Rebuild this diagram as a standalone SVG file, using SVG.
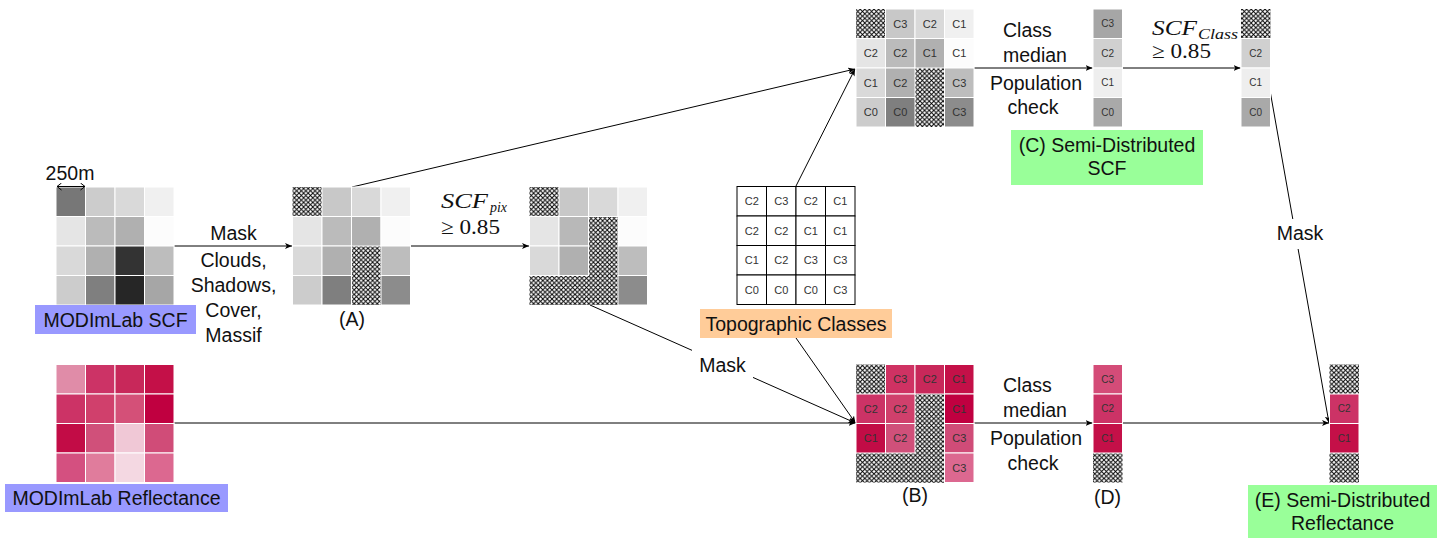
<svg xmlns="http://www.w3.org/2000/svg" width="1456" height="539" viewBox="0 0 1456 539">
<style>
.lbl{font-family:"Liberation Sans",Arial,sans-serif;font-size:19.5px;fill:#111;text-anchor:middle}
.lst{font-family:"Liberation Sans",Arial,sans-serif;font-size:19.5px;fill:#111}
.cell{font-family:"Liberation Sans",Arial,sans-serif;font-size:11px;fill:#333;text-anchor:middle}
.cs{font-family:"Liberation Sans",Arial,sans-serif;font-size:10px;fill:#333;text-anchor:middle}
.math{font-family:"Liberation Serif","Times New Roman",serif;font-style:italic;font-size:20px;fill:#111}
.mrm{font-family:"Liberation Serif","Times New Roman",serif;font-size:21px;fill:#111}
.msub{font-family:"Liberation Serif","Times New Roman",serif;font-style:italic;font-size:15px;fill:#111}
.c rect{stroke:#fff;stroke-width:1}
rect.h{fill:url(#hatch);stroke:none}
.con line{stroke:#000;stroke-width:1;fill:none}
.tg rect{fill:#fff;stroke:#000;stroke-width:1}
</style>
<defs>
<pattern id="hatch" width="4.6" height="4.6" patternUnits="userSpaceOnUse">
<rect width="4.6" height="4.6" fill="#fff"/>
<path d="M-1,-1 L5.6,5.6 M-1,5.6 L5.6,-1" stroke="#000" stroke-width="0.95"/>
</pattern>
<marker id="arr" markerWidth="8" markerHeight="6" refX="7" refY="3" orient="auto" markerUnits="userSpaceOnUse">
<path d="M0,0 L7,3 L0,6 L1.8,3 z" fill="#000"/>
</marker>
<marker id="chev" markerWidth="6" markerHeight="8" refX="5" refY="4" orient="auto-start-reverse" markerUnits="userSpaceOnUse">
<path d="M0.5,0.5 L5,4 L0.5,7.5" fill="none" stroke="#000" stroke-width="1"/>
</marker>
</defs>
<rect width="1456" height="539" fill="#fff"/>

<g id="connectors" class="con">
<line x1="174" y1="246" x2="292" y2="246" marker-end="url(#arr)"/>
<line x1="411" y1="246" x2="529" y2="246" marker-end="url(#arr)"/>
<line x1="352" y1="187" x2="855" y2="69" marker-end="url(#arr)"/>
<line x1="796" y1="186" x2="855" y2="69" marker-end="url(#arr)"/>
<line x1="974" y1="68" x2="1092.5" y2="68" marker-end="url(#arr)"/>
<line x1="1122.5" y1="68" x2="1240.5" y2="68" marker-end="url(#arr)"/>
<line x1="1266" y1="68" x2="1329" y2="423" marker-end="url(#arr)"/>
<line x1="174" y1="423" x2="855.5" y2="423" marker-end="url(#arr)"/>
<line x1="590" y1="305" x2="855.5" y2="423" marker-end="url(#arr)"/>
<line x1="796" y1="338" x2="855.5" y2="423" marker-end="url(#arr)"/>
<line x1="974" y1="423" x2="1092.5" y2="423" marker-end="url(#arr)"/>
<line x1="1122.5" y1="423" x2="1329" y2="423" marker-end="url(#arr)"/>
<rect x="692" y="349" width="61" height="30" fill="#fff"/>
<rect x="1276" y="219" width="48" height="30" fill="#fff"/>
<text class="lbl" x="233.5" y="240">Mask</text>
<text class="lbl" x="233.5" y="267">Clouds,</text>
<text class="lbl" x="233.5" y="292">Shadows,</text>
<text class="lbl" x="233.5" y="317">Cover,</text>
<text class="lbl" x="233.5" y="342">Massif</text>
<text class="math" x="441" y="208" textLength="47" lengthAdjust="spacingAndGlyphs">SCF</text>
<text class="msub" x="490" y="212" textLength="17" lengthAdjust="spacingAndGlyphs">pix</text>
<text class="mrm" x="441" y="234" textLength="59" lengthAdjust="spacingAndGlyphs">≥ 0.85</text>
<text class="lst" x="1003" y="37">Class</text>
<text class="lst" x="1003" y="62">median</text>
<text class="lbl" x="1036" y="90">Population</text>
<text class="lbl" x="1033" y="114">check</text>
<text class="math" x="1152" y="35" textLength="45" lengthAdjust="spacingAndGlyphs">SCF</text>
<text class="msub" x="1198" y="38.5" textLength="40" lengthAdjust="spacingAndGlyphs">Class</text>
<text class="mrm" x="1152" y="58" textLength="59" lengthAdjust="spacingAndGlyphs">≥ 0.85</text>
<text class="lbl" x="1300" y="240">Mask</text>
<text class="lbl" x="722.5" y="372">Mask</text>
<text class="lst" x="1003" y="392">Class</text>
<text class="lst" x="1003" y="417">median</text>
<text class="lbl" x="1036" y="445">Population</text>
<text class="lbl" x="1033" y="470">check</text>
</g>

<g id="modimlab-scf" class="c">
<text class="lbl" x="70" y="180">250m</text>
<rect x="56" y="187" width="29.5" height="29.5" fill="#777777"/>
<rect x="85.5" y="187" width="29.5" height="29.5" fill="#cccccc"/>
<rect x="115" y="187" width="29.5" height="29.5" fill="#d9d9d9"/>
<rect x="144.5" y="187" width="29.5" height="29.5" fill="#f0f0f0"/>
<rect x="56" y="216.5" width="29.5" height="29.5" fill="#e5e5e5"/>
<rect x="85.5" y="216.5" width="29.5" height="29.5" fill="#bbbbbb"/>
<rect x="115" y="216.5" width="29.5" height="29.5" fill="#b0b0b0"/>
<rect x="144.5" y="216.5" width="29.5" height="29.5" fill="#fcfcfc"/>
<rect x="56" y="246" width="29.5" height="29.5" fill="#d9d9d9"/>
<rect x="85.5" y="246" width="29.5" height="29.5" fill="#b0b0b0"/>
<rect x="115" y="246" width="29.5" height="29.5" fill="#333333"/>
<rect x="144.5" y="246" width="29.5" height="29.5" fill="#bdbdbd"/>
<rect x="56" y="275.5" width="29.5" height="29.5" fill="#cccccc"/>
<rect x="85.5" y="275.5" width="29.5" height="29.5" fill="#7f7f7f"/>
<rect x="115" y="275.5" width="29.5" height="29.5" fill="#262626"/>
<rect x="144.5" y="275.5" width="29.5" height="29.5" fill="#a6a6a6"/>
<line x1="57" y1="186.5" x2="85" y2="186.5" stroke="#000" stroke-width="1" marker-start="url(#chev)" marker-end="url(#chev)"/>
<rect x="35" y="305" width="161" height="29" fill="#9999ff" style="stroke:none"/>
<text class="lbl" x="115.5" y="327">MODImLab SCF</text>
</g>

<g id="grid-a" class="c">
<rect class="h" x="292.5" y="187" width="29.5" height="29.5"/>
<rect class="h" x="351.5" y="246" width="29.5" height="59"/>
<rect x="322" y="187" width="29.5" height="29.5" fill="#c8c8c8"/>
<rect x="351.5" y="187" width="29.5" height="29.5" fill="#d9d9d9"/>
<rect x="381" y="187" width="29.5" height="29.5" fill="#f0f0f0"/>
<rect x="292.5" y="216.5" width="29.5" height="29.5" fill="#e5e5e5"/>
<rect x="322" y="216.5" width="29.5" height="29.5" fill="#bbbbbb"/>
<rect x="351.5" y="216.5" width="29.5" height="29.5" fill="#b0b0b0"/>
<rect x="381" y="216.5" width="29.5" height="29.5" fill="#fcfcfc"/>
<rect x="292.5" y="246" width="29.5" height="29.5" fill="#d9d9d9"/>
<rect x="322" y="246" width="29.5" height="29.5" fill="#b0b0b0"/>
<rect x="381" y="246" width="29.5" height="29.5" fill="#bdbdbd"/>
<rect x="292.5" y="275.5" width="29.5" height="29.5" fill="#cccccc"/>
<rect x="322" y="275.5" width="29.5" height="29.5" fill="#7f7f7f"/>
<rect x="381" y="275.5" width="29.5" height="29.5" fill="#8c8c8c"/>
<text class="lbl" x="352" y="326">(A)</text>
</g>

<g id="grid-pix" class="c">
<rect class="h" x="529.5" y="187" width="29.5" height="29.5"/>
<rect class="h" x="588.5" y="216.5" width="29.5" height="88.5"/>
<rect class="h" x="529.5" y="275.5" width="88.5" height="29.5"/>
<rect x="559" y="187" width="29.5" height="29.5" fill="#c8c8c8"/>
<rect x="588.5" y="187" width="29.5" height="29.5" fill="#d9d9d9"/>
<rect x="618" y="187" width="29.5" height="29.5" fill="#f0f0f0"/>
<rect x="529.5" y="216.5" width="29.5" height="29.5" fill="#e5e5e5"/>
<rect x="559" y="216.5" width="29.5" height="29.5" fill="#b8b8b8"/>
<rect x="618" y="216.5" width="29.5" height="29.5" fill="#fcfcfc"/>
<rect x="529.5" y="246" width="29.5" height="29.5" fill="#d9d9d9"/>
<rect x="559" y="246" width="29.5" height="29.5" fill="#b0b0b0"/>
<rect x="618" y="246" width="29.5" height="29.5" fill="#bdbdbd"/>
<rect x="618" y="275.5" width="29.5" height="29.5" fill="#8c8c8c"/>
</g>

<g id="topographic-classes">
<g class="tg">
<rect x="737" y="186.5" width="29.5" height="29.5"/><rect x="766.5" y="186.5" width="29.5" height="29.5"/><rect x="796" y="186.5" width="29.5" height="29.5"/><rect x="825.5" y="186.5" width="29.5" height="29.5"/>
<rect x="737" y="216" width="29.5" height="29.5"/><rect x="766.5" y="216" width="29.5" height="29.5"/><rect x="796" y="216" width="29.5" height="29.5"/><rect x="825.5" y="216" width="29.5" height="29.5"/>
<rect x="737" y="245.5" width="29.5" height="29.5"/><rect x="766.5" y="245.5" width="29.5" height="29.5"/><rect x="796" y="245.5" width="29.5" height="29.5"/><rect x="825.5" y="245.5" width="29.5" height="29.5"/>
<rect x="737" y="275" width="29.5" height="29.5"/><rect x="766.5" y="275" width="29.5" height="29.5"/><rect x="796" y="275" width="29.5" height="29.5"/><rect x="825.5" y="275" width="29.5" height="29.5"/>
</g>
<text class="cell" x="751.75" y="205.2">C2</text><text class="cell" x="781.25" y="205.2">C3</text><text class="cell" x="810.75" y="205.2">C2</text><text class="cell" x="840.25" y="205.2">C1</text>
<text class="cell" x="751.75" y="234.7">C2</text><text class="cell" x="781.25" y="234.7">C2</text><text class="cell" x="810.75" y="234.7">C1</text><text class="cell" x="840.25" y="234.7">C1</text>
<text class="cell" x="751.75" y="264.2">C1</text><text class="cell" x="781.25" y="264.2">C2</text><text class="cell" x="810.75" y="264.2">C3</text><text class="cell" x="840.25" y="264.2">C3</text>
<text class="cell" x="751.75" y="293.7">C0</text><text class="cell" x="781.25" y="293.7">C0</text><text class="cell" x="810.75" y="293.7">C0</text><text class="cell" x="840.25" y="293.7">C3</text>
<rect x="700" y="309" width="192" height="29" fill="#ffcc99"/>
<text class="lbl" x="796" y="331">Topographic Classes</text>
</g>

<g id="grid-top" class="c">
<rect class="h" x="856" y="9" width="29.5" height="29.5"/>
<rect class="h" x="915" y="68" width="29.5" height="59"/>
<rect x="885.5" y="9" width="29.5" height="29.5" fill="#c8c8c8"/>
<rect x="915" y="9" width="29.5" height="29.5" fill="#d9d9d9"/>
<rect x="944.5" y="9" width="29.5" height="29.5" fill="#f0f0f0"/>
<rect x="856" y="38.5" width="29.5" height="29.5" fill="#e5e5e5"/>
<rect x="885.5" y="38.5" width="29.5" height="29.5" fill="#bbbbbb"/>
<rect x="915" y="38.5" width="29.5" height="29.5" fill="#b0b0b0"/>
<rect x="944.5" y="38.5" width="29.5" height="29.5" fill="#fcfcfc"/>
<rect x="856" y="68" width="29.5" height="29.5" fill="#d9d9d9"/>
<rect x="885.5" y="68" width="29.5" height="29.5" fill="#b0b0b0"/>
<rect x="944.5" y="68" width="29.5" height="29.5" fill="#bdbdbd"/>
<rect x="856" y="97.5" width="29.5" height="29.5" fill="#cccccc"/>
<rect x="885.5" y="97.5" width="29.5" height="29.5" fill="#7f7f7f"/>
<rect x="944.5" y="97.5" width="29.5" height="29.5" fill="#8c8c8c"/>
<text class="cell" x="900.25" y="27.7">C3</text><text class="cell" x="929.75" y="27.7">C2</text><text class="cell" x="959.25" y="27.7">C1</text>
<text class="cell" x="870.75" y="57.2">C2</text><text class="cell" x="900.25" y="57.2">C2</text><text class="cell" x="929.75" y="57.2">C1</text><text class="cell" x="959.25" y="57.2">C1</text>
<text class="cell" x="870.75" y="86.7">C1</text><text class="cell" x="900.25" y="86.7">C2</text><text class="cell" x="959.25" y="86.7">C3</text>
<text class="cell" x="870.75" y="116.2">C0</text><text class="cell" x="900.25" y="116.2">C0</text><text class="cell" x="959.25" y="116.2">C3</text>
</g>

<g id="column-c" class="c">
<rect x="1093" y="9" width="29.5" height="29.5" fill="#a6a6a6"/>
<rect x="1093" y="38.5" width="29.5" height="29.5" fill="#d0d0d0"/>
<rect x="1093" y="68" width="29.5" height="29.5" fill="#eeeeee"/>
<rect x="1093" y="97.5" width="29.5" height="29.5" fill="#a9a9a9"/>
<text class="cs" x="1107.75" y="27.3">C3</text>
<text class="cs" x="1107.75" y="56.8">C2</text>
<text class="cs" x="1107.75" y="86.3">C1</text>
<text class="cs" x="1107.75" y="115.8">C0</text>
<rect x="1011" y="130" width="192" height="55" fill="#99ff99" style="stroke:none"/>
<text class="lbl" x="1107" y="152">(C) Semi-Distributed</text>
<text class="lbl" x="1107" y="175">SCF</text>
</g>

<g id="column-scf-class" class="c">
<rect class="h" x="1241" y="9" width="29.5" height="29.5"/>
<rect x="1241" y="38.5" width="29.5" height="29.5" fill="#d0d0d0"/>
<rect x="1241" y="68" width="29.5" height="29.5" fill="#eeeeee"/>
<rect x="1241" y="97.5" width="29.5" height="29.5" fill="#a9a9a9"/>
<text class="cs" x="1255.75" y="56.8">C2</text>
<text class="cs" x="1255.75" y="86.3">C1</text>
<text class="cs" x="1255.75" y="115.8">C0</text>
</g>

<g id="modimlab-reflectance" class="c">
<rect x="56" y="364.5" width="29.5" height="29.5" fill="#e08ca8"/>
<rect x="85.5" y="364.5" width="29.5" height="29.5" fill="#cc3366"/>
<rect x="115" y="364.5" width="29.5" height="29.5" fill="#c8285a"/>
<rect x="144.5" y="364.5" width="29.5" height="29.5" fill="#c41048"/>
<rect x="56" y="394" width="29.5" height="29.5" fill="#cc3366"/>
<rect x="85.5" y="394" width="29.5" height="29.5" fill="#d0406c"/>
<rect x="115" y="394" width="29.5" height="29.5" fill="#d45078"/>
<rect x="144.5" y="394" width="29.5" height="29.5" fill="#c00040"/>
<rect x="56" y="423.5" width="29.5" height="29.5" fill="#c20c46"/>
<rect x="85.5" y="423.5" width="29.5" height="29.5" fill="#d0507a"/>
<rect x="115" y="423.5" width="29.5" height="29.5" fill="#f0c8d6"/>
<rect x="144.5" y="423.5" width="29.5" height="29.5" fill="#d04c78"/>
<rect x="56" y="453" width="29.5" height="29.5" fill="#d45080"/>
<rect x="85.5" y="453" width="29.5" height="29.5" fill="#e07c9c"/>
<rect x="115" y="453" width="29.5" height="29.5" fill="#f4d8e2"/>
<rect x="144.5" y="453" width="29.5" height="29.5" fill="#dc6890"/>
<rect x="5" y="484" width="223" height="28" fill="#9999ff" style="stroke:none"/>
<text class="lbl" x="116.5" y="505">MODImLab Reflectance</text>
</g>

<g id="grid-b" class="c">
<rect class="h" x="856" y="364.5" width="29.5" height="29.5"/>
<rect class="h" x="915" y="394" width="29.5" height="88.5"/>
<rect class="h" x="856" y="453" width="88.5" height="29.5"/>
<rect x="885.5" y="364.5" width="29.5" height="29.5" fill="#cf3263"/>
<rect x="915" y="364.5" width="29.5" height="29.5" fill="#c8285a"/>
<rect x="944.5" y="364.5" width="29.5" height="29.5" fill="#c41048"/>
<rect x="856" y="394" width="29.5" height="29.5" fill="#cc3366"/>
<rect x="885.5" y="394" width="29.5" height="29.5" fill="#d0406c"/>
<rect x="944.5" y="394" width="29.5" height="29.5" fill="#c00040"/>
<rect x="856" y="423.5" width="29.5" height="29.5" fill="#c20c46"/>
<rect x="885.5" y="423.5" width="29.5" height="29.5" fill="#d0507a"/>
<rect x="944.5" y="423.5" width="29.5" height="29.5" fill="#d04c78"/>
<rect x="944.5" y="453" width="29.5" height="29.5" fill="#dc6890"/>
<text class="cell" x="900.25" y="383.2">C3</text><text class="cell" x="929.75" y="383.2">C2</text><text class="cell" x="959.25" y="383.2">C1</text>
<text class="cell" x="870.75" y="412.7">C2</text><text class="cell" x="900.25" y="412.7">C2</text><text class="cell" x="959.25" y="412.7">C1</text>
<text class="cell" x="870.75" y="442.2">C1</text><text class="cell" x="900.25" y="442.2">C2</text><text class="cell" x="959.25" y="442.2">C3</text>
<text class="cell" x="959.25" y="471.7">C3</text>
<text class="lbl" x="915" y="502">(B)</text>
</g>

<g id="column-d" class="c">
<rect class="h" x="1093" y="453" width="29.5" height="29.5"/>
<rect x="1093" y="364.5" width="29.5" height="29.5" fill="#d44c78"/>
<rect x="1093" y="394" width="29.5" height="29.5" fill="#cc3366"/>
<rect x="1093" y="423.5" width="29.5" height="29.5" fill="#c41048"/>
<text class="cs" x="1107.75" y="382.8">C3</text>
<text class="cs" x="1107.75" y="412.3">C2</text>
<text class="cs" x="1107.75" y="441.8">C1</text>
<text class="lbl" x="1107.5" y="504">(D)</text>
</g>

<g id="column-e" class="c">
<rect class="h" x="1329.5" y="364.5" width="29.5" height="29.5"/>
<rect class="h" x="1329.5" y="453" width="29.5" height="29.5"/>
<rect x="1329.5" y="394" width="29.5" height="29.5" fill="#cc3366"/>
<rect x="1329.5" y="423.5" width="29.5" height="29.5" fill="#c41048"/>
<text class="cs" x="1344.25" y="412.3">C2</text>
<text class="cs" x="1344.25" y="441.8">C1</text>
<rect x="1248" y="485" width="189" height="53" fill="#99ff99" style="stroke:none"/>
<text class="lbl" x="1342.5" y="507">(E) Semi-Distributed</text>
<text class="lbl" x="1342.5" y="530">Reflectance</text>
</g>
</svg>
